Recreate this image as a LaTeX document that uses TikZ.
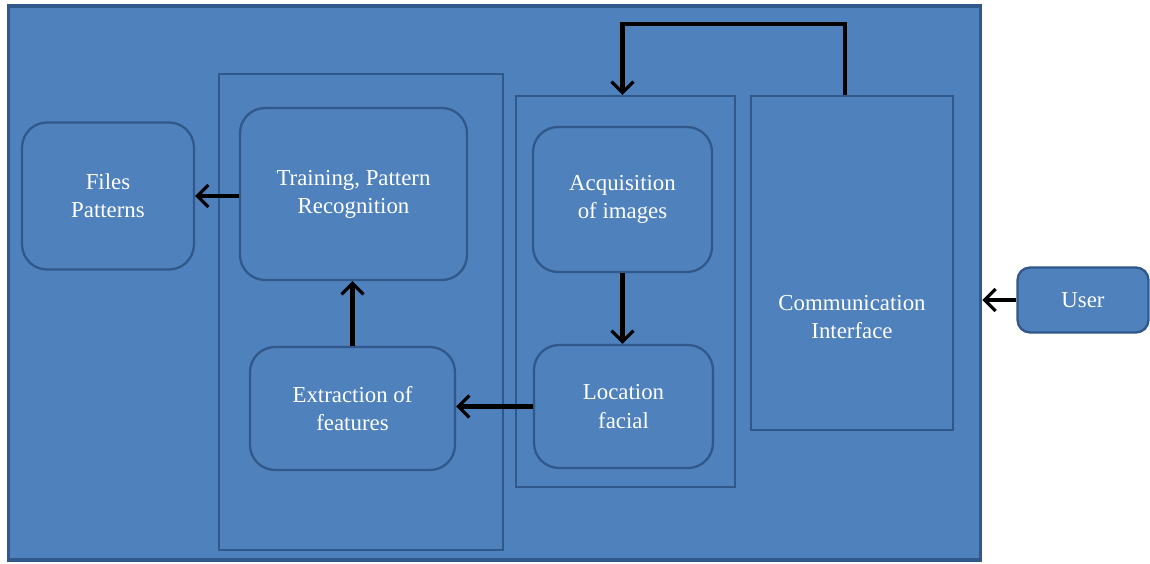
\documentclass[tikz,border=0pt]{standalone}
\usepackage{fontspec}
\setmainfont{Liberation Serif}
\usepackage{tikz}
\usetikzlibrary{
    positioning,
    arrows.meta,
    calc
}
\definecolor{boxBlue}{RGB}{79, 129, 189}
\definecolor{edgeBlue}{RGB}{48, 88, 138}

\tikzset{
    frame/.style={draw=edgeBlue, line width=1.8pt, fill=boxBlue},
    group/.style={draw=edgeBlue, line width=1.3pt, fill=boxBlue},
    block/.style={draw=edgeBlue, line width=1.3pt, fill=boxBlue, rounded corners=0.5cm,
        text=white, align=center, font=\fontsize{13}{16}\selectfont},
    txt/.style={text=white, align=center, font=\fontsize{13}{16}\selectfont},
    flow/.style={->, line width=2.4pt, black}
}

\begin{document}
\begin{tikzpicture}[x=0.02cm, y=-0.02cm, >={Straight Barb[length=2.2mm, width=4.4mm, line width=1.8pt]}]
        \useasboundingbox (0,0) rectangle (1150,564);

        % Frame and groups
        \node[frame, minimum width=19.46cm, minimum height=11.08cm] (frame) at (494.5,283) {};
        \node[group, minimum width=5.68cm, minimum height=9.52cm] (leftgrp) at (361,312) {};
        \node[group, minimum width=4.38cm, minimum height=7.82cm] (midgrp) at (625.5,291.5) {};
        \node[group, minimum width=4.04cm, minimum height=6.68cm] (comm) at (852,263) {};
        \node[txt] (commtxt) at (852,317) {Communication\\Interface};

        % Blocks
        \node[block, minimum width=3.44cm, minimum height=2.94cm] (files) at (108,196) {Files\\Patterns};
        \node[block, minimum width=4.54cm, minimum height=3.44cm] (train) at (353.5,194) {Training, Pattern\\Recognition};
        \node[block, minimum width=4.1cm, minimum height=2.46cm] (extr) at (352.5,408.5) {Extraction of\\features};
        \node[block, minimum width=3.58cm, minimum height=2.9cm] (acq) at (622.5,199.5) {Acquisition\\of images};
        \node[block, minimum width=3.58cm, minimum height=2.46cm] (loc) at (623.5,406.5) {Location\\facial};
        \node[block, rounded corners=0.25cm, minimum width=2.62cm, minimum height=1.3cm] (user) at (1083,300) {User};

        % Arrows
        \draw[flow] (train.west |- files) -- (files.east);
        \draw[flow] (extr.north) -- (extr.north |- train.south);
        \draw[flow] (acq.south) -- (acq.south |- loc.north);
        \draw[flow] (loc.west) -- (loc.west -| extr.east);
        \draw[flow] ($(comm.north)+(-7,0)$) -- ++(0,-71) -| (acq.north |- midgrp.north);
        \draw[flow] (user.west) -- (frame.east |- user);
    \end{tikzpicture}
\end{document}
